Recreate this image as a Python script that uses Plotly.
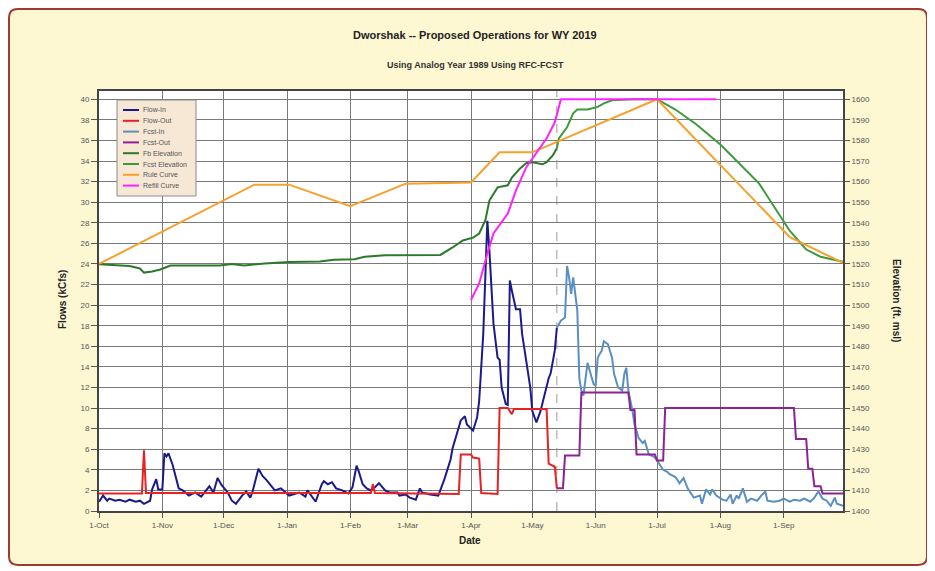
import plotly.graph_objects as go

# ---------------- data ----------------
flow_in_dates = ["2018-10-01","2018-10-03","2018-10-05","2018-10-06","2018-10-09","2018-10-11","2018-10-14","2018-10-16",
    "2018-10-19","2018-10-21","2018-10-23","2018-10-26","2018-10-27","2018-10-29","2018-10-30","2018-11-01","2018-11-02",
    "2018-11-03","2018-11-04","2018-11-06","2018-11-09","2018-11-11","2018-11-14","2018-11-17","2018-11-20","2018-11-24",
    "2018-11-26","2018-11-28","2018-11-30","2018-12-03","2018-12-05","2018-12-07","2018-12-10","2018-12-12","2018-12-14",
    "2018-12-15","2018-12-18","2018-12-20","2018-12-22","2018-12-24","2018-12-26","2018-12-29","2019-01-02","2019-01-07",
    "2019-01-10","2019-01-11","2019-01-15","2019-01-18","2019-01-19","2019-01-21","2019-01-23","2019-01-25","2019-01-28",
    "2019-01-31","2019-02-02","2019-02-04","2019-02-05","2019-02-07","2019-02-09","2019-02-11","2019-02-13","2019-02-15",
    "2019-02-18","2019-02-20","2019-02-24","2019-02-25","2019-02-28","2019-03-02","2019-03-05","2019-03-07","2019-03-08",
    "2019-03-12","2019-03-16","2019-03-19","2019-03-22","2019-03-23","2019-03-25","2019-03-27","2019-03-28","2019-03-29",
    "2019-03-30","2019-04-02","2019-04-04","2019-04-05","2019-04-07","2019-04-09","2019-04-10","2019-04-12","2019-04-14",
    "2019-04-15","2019-04-16","2019-04-18","2019-04-19","2019-04-20","2019-04-21","2019-04-23","2019-04-25","2019-04-26",
    "2019-04-28","2019-04-30","2019-05-01","2019-05-03","2019-05-05","2019-05-07","2019-05-09","2019-05-10","2019-05-12",
    "2019-05-13"]
flow_in = [0.9,1.5,1.0,1.2,1.0,1.1,0.9,1.1,0.9,1.0,0.7,1.0,2.1,3.1,2.1,2.1,5.6,5.3,5.6,4.5,2.2,2.0,1.5,1.8,1.4,2.4,
    1.8,3.2,2.5,1.8,1.0,0.7,1.5,1.9,1.3,1.8,4.1,3.4,3.0,2.5,2.0,2.2,1.5,1.8,1.4,2.0,0.9,2.6,2.9,2.6,2.8,2.2,2.0,1.7,
    2.3,4.4,3.9,2.6,2.2,2.0,2.3,2.7,2.0,1.8,1.8,1.5,1.6,1.3,1.1,2.2,1.8,1.6,1.5,3.1,5.0,6.1,7.5,8.8,9.0,9.2,8.4,7.8,
    9.1,10.7,17.2,28.2,25.3,18.2,14.9,14.7,12.0,10.4,10.3,22.4,21.4,19.6,19.6,17.2,14.6,12.0,9.7,8.6,9.7,11.4,12.9,
    13.4,15.6,17.8]

flow_out_dates = ["2018-10-01","2018-10-22","2018-10-23","2018-10-24","2019-02-11","2019-02-12","2019-02-13","2019-03-26",
    "2019-03-27","2019-04-01","2019-04-02","2019-04-05","2019-04-06","2019-04-14","2019-04-15","2019-04-19","2019-04-21",
    "2019-04-22","2019-05-08","2019-05-09","2019-05-12","2019-05-13"]
flow_out = [1.7,1.7,5.9,1.75,1.75,2.6,1.75,1.65,5.5,5.5,5.2,5.1,1.75,1.65,10.0,10.0,9.4,9.9,9.9,4.6,4.3,2.2]

fcst_in_dates = ["2019-05-13","2019-05-15","2019-05-17","2019-05-18","2019-05-19","2019-05-20","2019-05-21","2019-05-23",
    "2019-05-24","2019-05-25","2019-05-26","2019-05-27","2019-05-28","2019-05-30","2019-05-31","2019-06-01","2019-06-02",
    "2019-06-04","2019-06-05","2019-06-07","2019-06-09","2019-06-10","2019-06-12","2019-06-14","2019-06-15","2019-06-16",
    "2019-06-17","2019-06-19","2019-06-20","2019-06-22","2019-06-24","2019-06-25","2019-06-27","2019-06-30","2019-07-02",
    "2019-07-04","2019-07-06","2019-07-07","2019-07-10","2019-07-12","2019-07-14","2019-07-16","2019-07-18","2019-07-19",
    "2019-07-22","2019-07-23","2019-07-25","2019-07-27","2019-07-28","2019-07-30","2019-08-02","2019-08-04","2019-08-06",
    "2019-08-07","2019-08-09","2019-08-10","2019-08-12","2019-08-14","2019-08-16","2019-08-19","2019-08-21","2019-08-23",
    "2019-08-24","2019-08-27","2019-08-30","2019-09-01","2019-09-04","2019-09-06","2019-09-09","2019-09-11","2019-09-14",
    "2019-09-16","2019-09-18","2019-09-20","2019-09-22","2019-09-24","2019-09-26","2019-09-27","2019-09-30"]
fcst_in = [17.8,18.5,18.8,23.8,22.7,21.1,22.7,19.5,12.9,11.7,11.2,12.7,14.4,13.0,12.3,12.2,14.9,15.6,16.5,16.2,14.9,13.3,
    12.0,11.7,13.3,13.9,11.7,9.7,8.4,7.1,6.6,6.8,5.5,5.2,4.6,4.0,3.8,3.6,3.3,2.7,3.2,2.2,1.6,1.3,1.5,0.7,2.1,1.6,2.1,1.5,
    1.1,1.0,1.6,0.7,1.5,1.2,2.2,0.9,1.2,1.0,1.5,1.9,1.0,0.9,1.0,1.2,0.9,1.1,1.0,1.2,0.9,1.3,1.9,1.2,1.0,0.5,1.3,0.7,0.5]

fcst_out_dates = ["2019-05-13","2019-05-16","2019-05-17","2019-05-24","2019-05-25","2019-06-17","2019-06-18","2019-06-20",
    "2019-06-21","2019-06-30","2019-07-01","2019-07-04","2019-07-05","2019-09-06","2019-09-07","2019-09-12","2019-09-13",
    "2019-09-15","2019-09-16","2019-09-19","2019-09-20","2019-09-30"]
fcst_out = [2.2,2.2,5.4,5.4,11.5,11.5,9.8,9.8,5.5,5.5,4.9,4.9,10.0,10.0,7.0,7.0,4.1,4.1,2.4,2.4,1.7,1.7]

fb_elev_dates = ["2018-10-01","2018-10-16","2018-10-21","2018-10-23","2018-10-27","2018-10-31","2018-11-05","2018-11-29",
    "2018-12-05","2018-12-11","2018-12-21","2019-01-02","2019-01-17","2019-01-24","2019-02-03","2019-02-08","2019-02-18",
    "2019-03-17","2019-03-23","2019-03-28","2019-04-02","2019-04-05","2019-04-08","2019-04-10","2019-04-14","2019-04-19",
    "2019-04-21","2019-04-25","2019-04-28","2019-05-01","2019-05-06","2019-05-08","2019-05-11","2019-05-13"]
fb_elev = [1519.8,1519.0,1517.8,1515.8,1516.3,1517.3,1519.2,1519.2,1520.0,1519.3,1520.2,1521.0,1521.2,1522.0,1522.3,
    1523.5,1524.2,1524.4,1528.0,1531.4,1532.8,1534.8,1541.1,1550.8,1557.2,1558.2,1562.0,1566.4,1568.9,1569.4,1568.4,
    1569.4,1572.7,1576.2]

fcst_elev_dates = ["2019-05-13","2019-05-14","2019-05-18","2019-05-21","2019-05-23","2019-05-28","2019-06-02","2019-06-05",
    "2019-06-09","2019-06-19","2019-07-01","2019-07-10","2019-07-20","2019-08-01","2019-08-20","2019-09-04","2019-09-12",
    "2019-09-19","2019-09-30"]
fcst_elev = [1576.2,1581.0,1586.4,1593.2,1595.0,1595.0,1596.3,1598.0,1599.5,1600.0,1600.0,1595.0,1588.0,1578.0,1559.0,
    1536.0,1527.0,1523.5,1521.0]

rule_dates = ["2018-10-01","2018-12-16","2019-01-02","2019-02-01","2019-02-28","2019-04-01","2019-04-15","2019-05-01",
    "2019-07-01","2019-09-04","2019-09-30"]
rule_curve = [1520.0,1558.5,1558.5,1548.0,1559.0,1559.6,1574.2,1574.2,1600.0,1533.0,1520.5]

refill_dates = ["2019-04-01","2019-04-05","2019-04-09","2019-04-12","2019-04-19","2019-04-23","2019-04-28","2019-05-03",
    "2019-05-08","2019-05-12","2019-05-15","2019-07-30"]
refill_curve = [1502.5,1510.5,1525.0,1534.8,1544.5,1555.7,1566.9,1573.7,1581.0,1588.8,1600.0,1600.0]

forecast_start = "2019-05-13"

series_names = ["Flow-In", "Flow-Out", "Fcst-In", "Fcst-Out", "Fb Elevation", "Fcst Elevation", "Rule Curve", "Refill Curve"]
series_colors = ["#1a1a8c", "#e82222", "#5b8fc2", "#8c2394", "#2a7a2a", "#3b9b3b", "#f7a02c", "#ff22ff"]

# ---------------- figure ----------------
FONT = "Liberation Sans, Arial, sans-serif"
W, H = 927, 563
ML, MR, MT, MB = 91, 92, 83, 60
PW, PH = W - ML - MR, H - MT - MB

def px(p):   # page pixel x -> paper x (page has 8px body offset)
    return (p - 8 - ML) / PW

def py(p):   # page pixel y -> paper y
    return (H - MB - (p - 8)) / PH

fig = go.Figure()
series = [(flow_in_dates, flow_in, "y"), (flow_out_dates, flow_out, "y"), (fcst_in_dates, fcst_in, "y"),
          (fcst_out_dates, fcst_out, "y"), (fb_elev_dates, fb_elev, "y2"), (fcst_elev_dates, fcst_elev, "y2"),
          (rule_dates, rule_curve, "y2"), (refill_dates, refill_curve, "y2")]
for (xs, ys, ax), name, col in zip(series, series_names, series_colors):
    fig.add_trace(go.Scatter(x=xs, y=ys, name=name, mode="lines", yaxis=ax,
                             line=dict(color=col, width=2), showlegend=False))

shapes = []
# cream background with rounded border
x0, x1, y0, y1 = px(9), px(927), py(565), py(9)
rx, ry = 0.012, 0.02
path = (f"M {x0+rx},{y0} L {x1-rx},{y0} Q {x1},{y0} {x1},{y0+ry} L {x1},{y1-ry} Q {x1},{y1} {x1-rx},{y1} "
        f"L {x0+rx},{y1} Q {x0},{y1} {x0},{y1-ry} L {x0},{y0+ry} Q {x0},{y0} {x0+rx},{y0} Z")
shapes.append(dict(type="path", xref="paper", yref="paper", path=path, fillcolor="#fdf7d2",
                   line=dict(color="#a03a30", width=2), layer="below"))
# white plot area
shapes.append(dict(type="rect", xref="paper", yref="paper", x0=0, x1=1, y0=0, y1=1,
                   fillcolor="white", line=dict(width=0), layer="below"))
# forecast divider
shapes.append(dict(type="line", xref="x", yref="paper", x0=forecast_start, x1=forecast_start, y0=0, y1=1,
                   line=dict(color="#9a9a9a", width=1, dash="dash"), layer="below"))

# custom compact legend
shapes.append(dict(type="rect", xref="paper", yref="paper", x0=px(117), x1=px(196), y0=py(196), y1=py(100),
                   fillcolor="#f7e8d6", line=dict(color="#8a8a8a", width=1), layer="above"))
annotations = []
for i, (name, col) in enumerate(zip(series_names, series_colors)):
    yc = 110 + i * 10.8
    shapes.append(dict(type="line", xref="paper", yref="paper", x0=px(123), x1=px(139), y0=py(yc), y1=py(yc),
                       line=dict(color=col, width=2), layer="above"))
    annotations.append(dict(text=name, xref="paper", yref="paper", x=px(141), y=py(yc), xanchor="left",
                            yanchor="middle", showarrow=False, font=dict(family=FONT, size=7, color="#555555")))

annotations += [
    dict(text="<b>Dworshak -- Proposed Operations for WY 2019</b>", xref="paper", yref="paper",
         x=px(475), y=py(35), xanchor="center", yanchor="middle", showarrow=False,
         font=dict(family=FONT, size=11, color="#222222")),
    dict(text="<b>Using Analog Year 1989 Using RFC-FCST</b>", xref="paper", yref="paper",
         x=px(475), y=py(65), xanchor="center", yanchor="middle", showarrow=False,
         font=dict(family=FONT, size=9, color="#333333")),
    dict(text="<b>Date</b>", xref="paper", yref="paper", x=px(470), y=py(540),
         xanchor="center", yanchor="middle", showarrow=False,
         font=dict(family=FONT, size=10, color="#222222")),
    dict(text="<b>Flows (kCfs)</b>", xref="paper", yref="paper", x=px(62), y=py(300),
         xanchor="center", yanchor="middle", showarrow=False, textangle=-90,
         font=dict(family=FONT, size=10, color="#222222")),
    dict(text="<b>Elevation (ft. msl)</b>", xref="paper", yref="paper", x=px(897), y=py(300),
         xanchor="center", yanchor="middle", showarrow=False, textangle=90,
         font=dict(family=FONT, size=10, color="#222222")),
]

tickfont = dict(family=FONT, size=8, color="#555555")
fig.update_layout(
    width=W, height=H,
    margin=dict(l=ML, r=MR, t=MT, b=MB),
    paper_bgcolor="white", plot_bgcolor="white",
    font=dict(family=FONT),
    showlegend=False,
    shapes=shapes, annotations=annotations,
    xaxis=dict(type="date", range=["2018-10-01", "2019-09-30"], tick0="2018-10-01", dtick="M1",
               tickformat="%-d-%b", tickfont=tickfont, ticks="outside", ticklen=5, tickcolor="#555555",
               showgrid=True, gridcolor="#7a7a7a", gridwidth=1,
               showline=True, linecolor="#444444", linewidth=2, mirror=True),
    yaxis=dict(range=[0, 40.8], dtick=2, tick0=0, tickfont=tickfont, ticks="outside", ticklen=6,
               tickcolor="#555555", showgrid=True, gridcolor="#7a7a7a", gridwidth=1, zeroline=False,
               showline=True, linecolor="#444444", linewidth=2, mirror=True),
    yaxis2=dict(range=[1400, 1604], dtick=10, tick0=1400, overlaying="y", side="right",
                tickfont=tickfont, ticks="outside", ticklen=6, tickcolor="#555555",
                showgrid=False, zeroline=False, showline=False),
)

fig.write_html("out.html")
